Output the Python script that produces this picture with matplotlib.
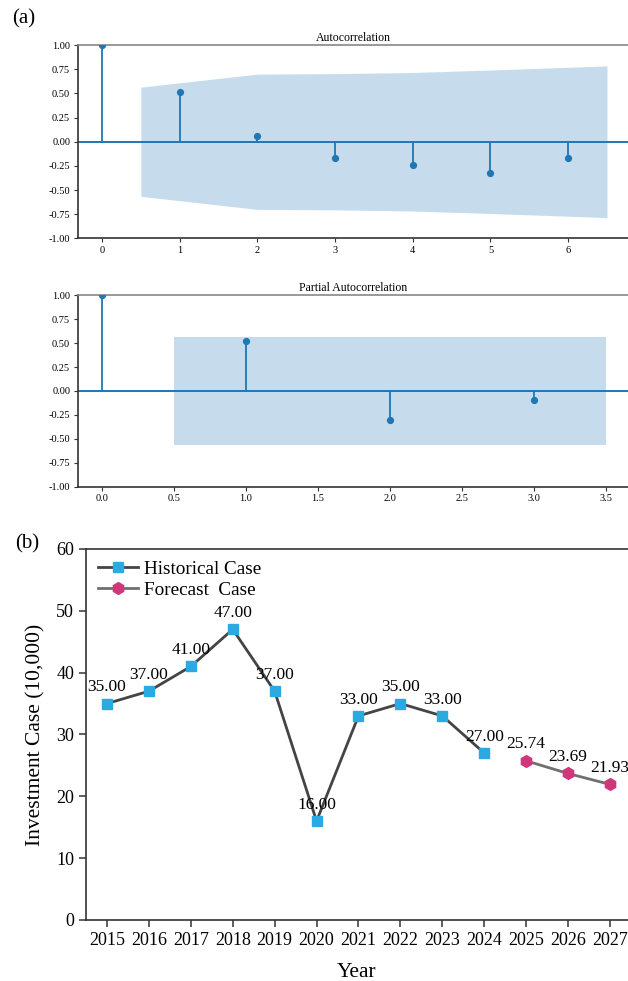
import numpy as np
import matplotlib.pyplot as plt

plt.rcParams['font.family'] = ['Liberation Serif', 'DejaVu Serif']
plt.rcParams['axes.unicode_minus'] = False

# autocorrelation of the yearly series
acf_lags = [0, 1, 2, 3, 4, 5, 6]
acf_vals = [1.00, 0.52, 0.06, -0.17, -0.24, -0.32, -0.17]
acf_band_x = [0.5, 2, 3, 4, 5, 6.5]
acf_band = [0.565, 0.70, 0.705, 0.717, 0.742, 0.785]

# partial autocorrelation
pacf_lags = [0, 1, 2, 3]
pacf_vals = [1.00, 0.52, -0.30, -0.10]
pacf_band_x = [0.5, 1, 2, 3.5]
pacf_band = [0.565, 0.565, 0.565, 0.565]

# investment cases (10,000)
hist_years = [2015, 2016, 2017, 2018, 2019, 2020, 2021, 2022, 2023, 2024]
hist_vals = [35, 37, 41, 47, 37, 16, 33, 35, 33, 27]
fc_years = [2025, 2026, 2027]
fc_vals = [25.74, 23.69, 21.93]

C0 = '#1f77b4'

fig = plt.figure(figsize=(6.28, 9.81), dpi=100)


def corr_panel(ax, lags, vals, bx, band, title, xlim, xticks, fmt):
    bx = np.array(bx)
    band = np.array(band)
    ax.fill_between(bx, -band, band, color=C0, alpha=0.25, linewidth=0)
    ax.axhline(0, color=C0, lw=1.4, zorder=2)
    ax.vlines(lags, 0, vals, color=C0, lw=1.3, zorder=3)
    ax.plot(lags, vals, 'o', color=C0, ms=4.2, zorder=4)
    ax.set_xlim(*xlim)
    ax.set_ylim(-1, 1)
    ax.set_yticks(np.arange(-1, 1.01, 0.25))
    ax.set_yticklabels(['%.2f' % v for v in np.arange(-1, 1.01, 0.25)])
    ax.set_xticks(xticks)
    ax.set_xticklabels([fmt % v for v in xticks])
    ax.set_title(title, fontsize=8.5, pad=3)
    ax.tick_params(labelsize=7.5, length=3, width=0.8, pad=2.5, color='#333333')
    ax.spines['right'].set_visible(False)
    ax.spines['top'].set_color('#888888')
    for s in ['left', 'bottom']:
        ax.spines[s].set_color('#333333')
    for s in ax.spines.values():
        s.set_linewidth(1.2)


ax1 = fig.add_axes([0.124, 0.757, 0.876, 0.197])
corr_panel(ax1, acf_lags, acf_vals, acf_band_x, acf_band, 'Autocorrelation',
           (-0.31, 6.77), [0, 1, 2, 3, 4, 5, 6], '%d')

ax2 = fig.add_axes([0.124, 0.504, 0.876, 0.195])
corr_panel(ax2, pacf_lags, pacf_vals, pacf_band_x, pacf_band, 'Partial Autocorrelation',
           (-0.167, 3.65), [0, 0.5, 1, 1.5, 2, 2.5, 3, 3.5], '%.1f')

# forecast panel
ax3 = fig.add_axes([0.137, 0.0622, 0.863, 0.3782])
ax3.plot(hist_years, hist_vals, '-s', color='#444444', lw=2, ms=7.5,
         mfc='#29abe2', mec='#29abe2', label='Historical Case', zorder=3)
ax3.plot(fc_years, fc_vals, '-h', color='#707070', lw=2, ms=8.5,
         mfc='#d0377a', mec='#d0377a', label='Forecast  Case', zorder=3)
for x, y in zip(hist_years + fc_years, hist_vals + fc_vals):
    ax3.annotate('%.2f' % y, (x, y), xytext=(0, 6), textcoords='offset points',
                 ha='center', va='bottom', fontsize=12.5)
ax3.set_xlim(2014.5, 2027.43)
ax3.set_ylim(0, 60)
ax3.set_xticks(hist_years + fc_years)
ax3.set_yticks(range(0, 61, 10))
ax3.tick_params(labelsize=13, length=5, width=1.1, color='#333333')
ax3.set_xlabel('Year', fontsize=15.5, labelpad=10)
ax3.set_ylabel('Investment Case (10,000)', fontsize=15.5, labelpad=8)
ax3.spines['right'].set_visible(False)
for s in ['left', 'bottom', 'top']:
    ax3.spines[s].set_color('#333333')
    ax3.spines[s].set_linewidth(1.2)
ax3.legend(loc='upper left', frameon=False, fontsize=13.8, handlelength=2.1,
           handletextpad=0.3, labelspacing=0.2, borderaxespad=0.2)

fig.text(0.019, 0.981, '(a)', fontsize=15, va='center')
fig.text(0.024, 0.446, '(b)', fontsize=15, va='center')

fig.savefig('out.png', dpi=100)
